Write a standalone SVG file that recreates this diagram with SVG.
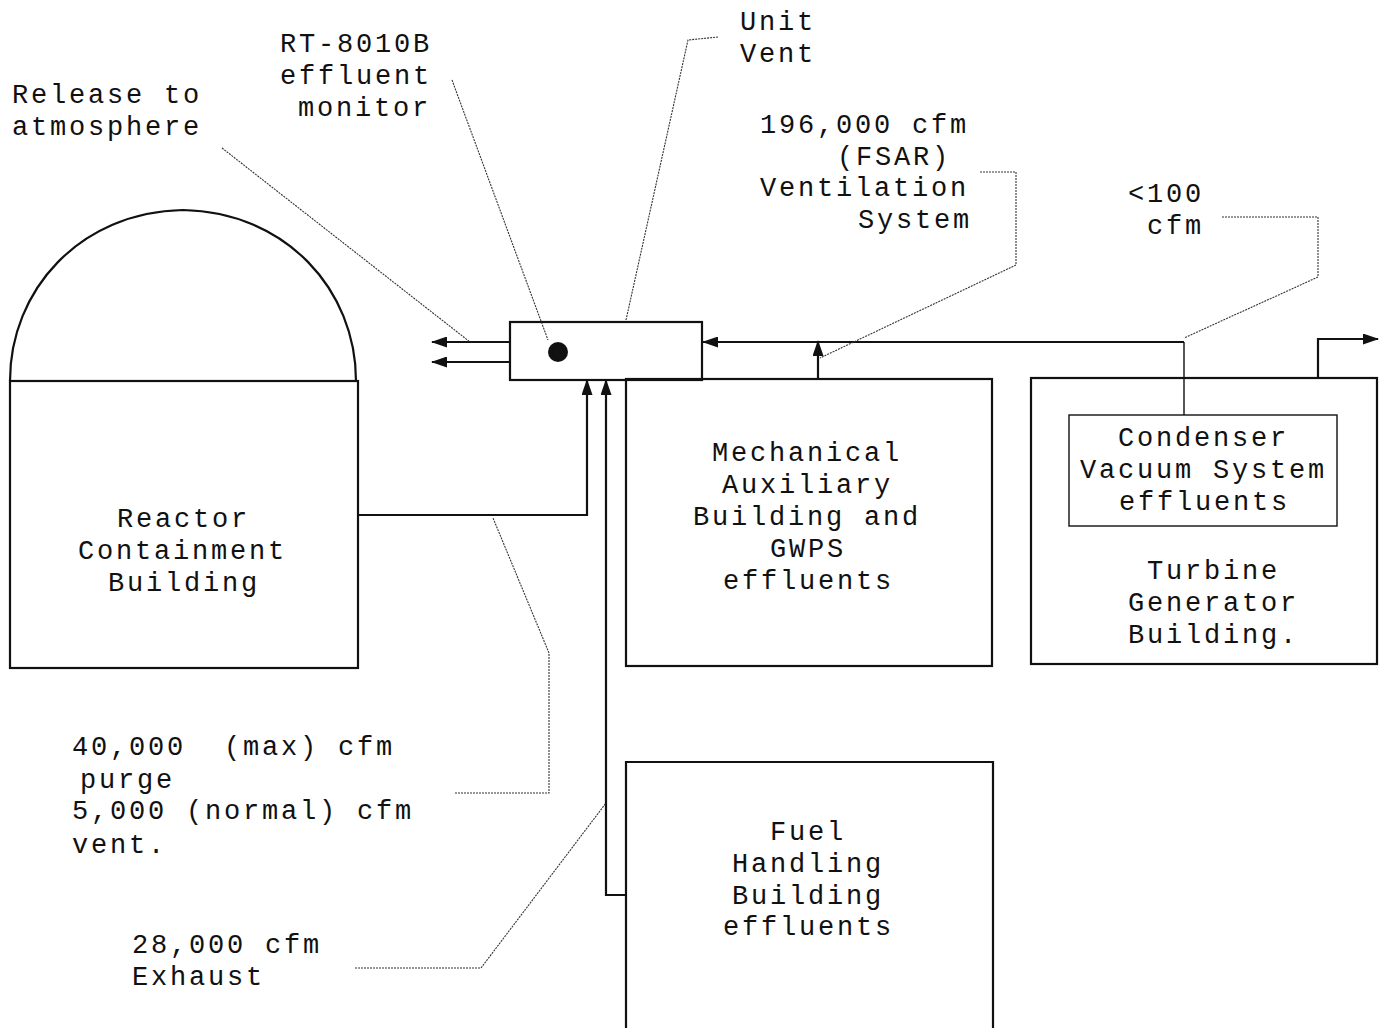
<svg xmlns="http://www.w3.org/2000/svg" width="1384" height="1028" viewBox="0 0 1384 1028">
<style>
text{font-family:"Liberation Mono","Courier New",monospace;font-size:27px;letter-spacing:2.8px;fill:#111}
.box{fill:none;stroke:#111;stroke-width:2.2}
.flow{fill:none;stroke:#111;stroke-width:2.2}
.lead{fill:none;stroke:#333;stroke-width:1.1;stroke-dasharray:2 1}
.thin{fill:none;stroke:#111;stroke-width:1.4}
</style>
<defs>
<marker id="ah" viewBox="0 0 16 11" refX="15" refY="5.5" markerWidth="16" markerHeight="11" markerUnits="userSpaceOnUse" orient="auto">
<path d="M0,0 L16,5.5 L0,11 Z" fill="#111"/>
</marker>
</defs>
<rect width="1384" height="1028" fill="#fff"/>

<g id="reactor">
<path class="box" d="M10,381 C10,290 80,212 183,210 C286,212 356,290 356,381"/>
<rect class="box" x="10" y="381" width="348" height="287"/>
<text x="117" y="527">Reactor</text>
<text x="78" y="559">Containment</text>
<text x="108" y="591">Building</text>
</g>

<g id="unit-vent">
<rect class="box" x="510" y="322" width="192" height="58"/>
<circle cx="558" cy="352" r="10" fill="#111"/>
</g>

<g id="mab">
<rect class="box" x="626" y="379" width="366" height="287"/>
<text x="712" y="461">Mechanical</text>
<text x="722" y="493">Auxiliary</text>
<text x="693" y="525">Building and</text>
<text x="770" y="557">GWPS</text>
<text x="723" y="589">effluents</text>
</g>

<g id="turbine">
<rect class="box" x="1031" y="378" width="346" height="286"/>
<text x="1147" y="579">Turbine</text>
<text x="1128" y="611">Generator</text>
<text x="1128" y="643">Building.</text>
</g>

<g id="condenser">
<rect class="thin" x="1069" y="415" width="268" height="111"/>
<text x="1118" y="446">Condenser</text>
<text x="1080" y="478">Vacuum System</text>
<text x="1119" y="510">effluents</text>
</g>

<g id="fuel">
<path class="box" d="M626,1028 L626,762 L993,762 L993,1028"/>
<text x="770" y="840">Fuel</text>
<text x="732" y="872">Handling</text>
<text x="732" y="904">Building</text>
<text x="723" y="935">effluents</text>
</g>

<g id="connectors">
<path class="flow" d="M510,342 L432,342" marker-end="url(#ah)"/>
<path class="flow" d="M510,362 L432,362" marker-end="url(#ah)"/>
<path class="flow" d="M1184,342 L703,342" marker-end="url(#ah)"/>
<path class="flow" d="M818,379 L818,341" marker-end="url(#ah)"/>
<path class="flow" d="M358,515 L587,515 L587,380" marker-end="url(#ah)"/>
<path class="flow" d="M626,895 L606,895 L606,380" marker-end="url(#ah)"/>
<path class="thin" d="M1184,342 L1184,415"/>
<path class="flow" d="M1318,378 L1318,339 L1378,339" marker-end="url(#ah)"/>
</g>

<g id="leaders">
<path class="lead" d="M222,148 L470,342"/>
<path class="lead" d="M452,80 L548,340"/>
<path class="lead" d="M626,320 L688,40 L718,37"/>
<path class="lead" d="M980,172 L1016,172 L1016,265 L820,358"/>
<path class="lead" d="M1222,217 L1318,217 L1318,277 L1184,338"/>
<path class="lead" d="M455,793 L549,793 L549,653 L493,518"/>
<path class="lead" d="M355,968 L481,968 L606,803"/>
</g>

<g id="labels">
<text x="12" y="103">Release to</text>
<text x="12" y="135">atmosphere</text>
<text x="280" y="52">RT-8010B</text>
<text x="280" y="84">effluent</text>
<text x="298" y="116">monitor</text>
<text x="740" y="30">Unit</text>
<text x="740" y="62">Vent</text>
<text x="760" y="133">196,000 cfm</text>
<text x="837" y="165">(FSAR)</text>
<text x="760" y="196">Ventilation</text>
<text x="858" y="228">System</text>
<text x="1128" y="202">&lt;100</text>
<text x="1147" y="234">cfm</text>
<text x="72" y="755" xml:space="preserve">40,000  (max) cfm</text>
<text x="80" y="788">purge</text>
<text x="72" y="819">5,000 (normal) cfm</text>
<text x="72" y="853">vent.</text>
<text x="132" y="953">28,000 cfm</text>
<text x="132" y="985">Exhaust</text>
</g>
</svg>
